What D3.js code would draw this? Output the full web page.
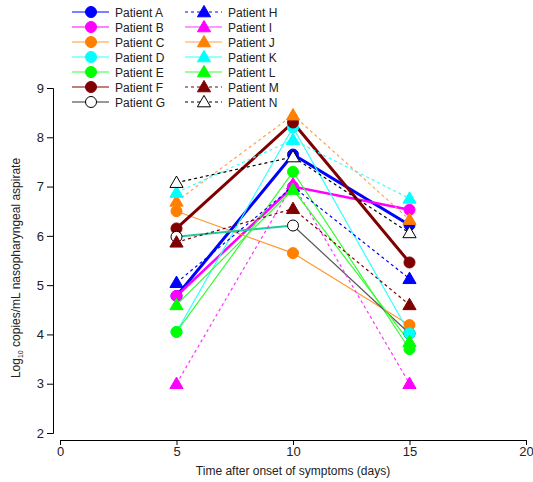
<!DOCTYPE html>
<html>
<head>
<meta charset="utf-8">
<script src="https://cdn.jsdelivr.net/npm/d3@7"></script>
<style>
  body { margin: 0; background: #fff; }
  text { font-family: "Liberation Sans", Arial, sans-serif; fill: #222; }
</style>
</head>
<body>
<div id="chart"></div>
<script>
// chart values
const days = [5, 10, 15];
const patients = ["Patient A", "Patient B", "Patient C", "Patient D", "Patient E", "Patient F", "Patient G",
                  "Patient H", "Patient I", "Patient J", "Patient K", "Patient L", "Patient M", "Patient N"];
const viralLoad = [
  [4.78, 7.65, 6.22],  // A
  [4.78, 7.00, 6.53],  // B
  [6.50, 5.65, 4.19],  // C
  [4.05, 8.20, 4.02],  // D
  [4.05, 7.30, 3.70],  // E
  [6.15, 8.30, 5.46],  // F
  [5.98, 6.21, 4.02],  // G
  [5.05, 7.00, 5.13],  // H
  [3.00, 7.05, 3.00],  // I
  [6.70, 8.45, 6.33],  // J
  [6.88, 7.95, 6.76],  // K
  [4.60, 6.94, 3.85],  // L
  [5.87, 6.55, 4.60],  // M
  [7.08, 7.60, 6.06]   // N
];
const xTicks = [0, 5, 10, 15, 20];
const yTicks = [2, 3, 4, 5, 6, 7, 8, 9];

// look of each series
const markerColor = ["#0000ff", "#ff00ff", "#ff8000", "#00ffff", "#00ff00", "#800000", "#ffffff",
                     "#0000ff", "#ff00ff", "#ff8000", "#00ffff", "#00ff00", "#800000", "#ffffff"];
const lineColor = ["#0000ff", "#ff00ff", "#ff9933", "#33ffff", "#33ff33", "#800000", "#333333",
                   "#0000ff", "#ff33ff", "#ffa050", "#33ffff", "#33ff33", "#800000", "#000000"];
const lineWidth = [3, 2.5, 1.2, 1.2, 1.2, 3, 1.2, 1.2, 1.2, 1.2, 1.2, 1.2, 1.2, 1.2];
const dashed = [false, false, false, false, false, false, false, true, true, true, true, false, true, true];
const shape = ["circle", "circle", "circle", "circle", "circle", "circle", "circle",
               "triangle", "triangle", "triangle", "triangle", "triangle", "triangle", "triangle"];
// legend uses solid for I, J, K, L
const legendDashed = [false, false, false, false, false, false, false, true, false, false, false, false, true, true];
// G's first segment shows teal in the original
const gSegmentColor = ["#20c8a0", "#555555"];

const width = 533, height = 482;
const svg = d3.select("#chart").append("svg").attr("width", width).attr("height", height);

const x = d3.scaleLinear().domain([0, 20]).range([60, 526]);
const y = d3.scaleLinear().domain([2, 9]).range([433, 88]);

// y axis
const yAxis = svg.append("g").attr("transform", "translate(53,0)")
  .call(d3.axisLeft(y).tickValues(yTicks).tickFormat(d3.format("d")).tickSize(6).tickPadding(3));
yAxis.selectAll("text").attr("font-size", 13);

// x axis
const xAxis = svg.append("g").attr("transform", "translate(0,440)")
  .call(d3.axisBottom(x).tickValues(xTicks).tickSize(5).tickPadding(2));
xAxis.selectAll("text").attr("font-size", 13);
svg.selectAll(".domain, .tick line").attr("stroke", "#000").attr("stroke-width", 1);

svg.append("text")
  .attr("x", 293).attr("y", 475)
  .attr("text-anchor", "middle").attr("font-size", 12)
  .text("Time after onset of symptoms (days)");

const yLab = svg.append("text")
  .attr("transform", "translate(20,268) rotate(-90)")
  .attr("text-anchor", "middle").attr("font-size", 12);
yLab.append("tspan").text("Log");
yLab.append("tspan").attr("font-size", 7).attr("dy", 3).text("10");
yLab.append("tspan").attr("dy", -3).text(" copies/mL nasopharyngeal aspirate");

const line = d3.line().x((d, i) => x(days[i])).y(d => y(d));
const triangle = d3.symbol().type(d3.symbolTriangle).size(75);

function marker(g, i, cx, cy) {
  const stroke = markerColor[i] === "#ffffff" ? "#000" : markerColor[i];
  if (shape[i] === "circle") {
    g.append("circle").attr("cx", cx).attr("cy", cy).attr("r", 5.5)
      .attr("fill", markerColor[i]).attr("stroke", stroke).attr("stroke-width", 1);
  } else {
    g.append("path").attr("d", triangle).attr("transform", `translate(${cx},${cy + 1})`)
      .attr("fill", markerColor[i]).attr("stroke", stroke).attr("stroke-width", 1);
  }
}

// lines first
const linesG = svg.append("g");
viralLoad.forEach((vals, i) => {
  if (i === 6) {
    for (let j = 0; j < vals.length - 1; j++) {
      linesG.append("line")
        .attr("x1", x(days[j])).attr("y1", y(vals[j]))
        .attr("x2", x(days[j + 1])).attr("y2", y(vals[j + 1]))
        .attr("stroke", gSegmentColor[j]).attr("stroke-width", j === 0 ? 2 : 1.2);
    }
    return;
  }
  linesG.append("path").datum(vals).attr("d", line)
    .attr("fill", "none").attr("stroke", lineColor[i]).attr("stroke-width", lineWidth[i])
    .attr("stroke-dasharray", dashed[i] ? "3,3" : null);
});

// markers; at day 15 G sits hidden under D
const markG = svg.append("g");
days.forEach((d, j) => {
  const order = d3.range(patients.length);
  if (j === 2) { order.splice(6, 1); order.unshift(6); }
  order.forEach(i => marker(markG, i, x(d), y(viralLoad[i][j])));
});

// legend
patients.forEach((name, i) => {
  const col = i < 7 ? 0 : 1;
  const row = i % 7;
  const lx = col === 0 ? 72 : 185;
  const ly = 12 + row * 15;
  const g = svg.append("g");
  g.append("line").attr("x1", lx).attr("x2", lx + 37).attr("y1", ly).attr("y2", ly)
    .attr("stroke", lineColor[i]).attr("stroke-width", 1.2)
    .attr("stroke-dasharray", legendDashed[i] ? "3,3" : null);
  marker(g, i, lx + 19, ly);
  g.append("text").attr("x", lx + 43).attr("y", ly + 4.5).attr("font-size", 12).text(name);
});
</script>
</body>
</html>
